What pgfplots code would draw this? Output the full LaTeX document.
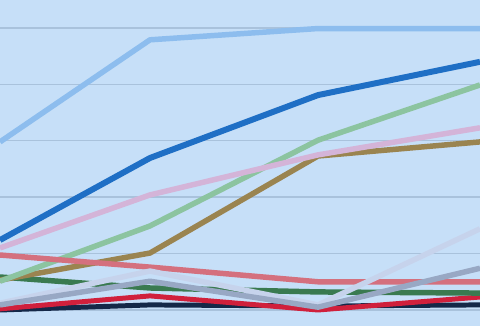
\documentclass[border=0pt]{standalone}
\usepackage{pgfplots}
\pgfplotsset{compat=1.18}
\definecolor{bgcol}{HTML}{C6DFF8}
\definecolor{gridcol}{HTML}{A9C2DC}
\definecolor{cLightBlue}{HTML}{8DBDEE}
\definecolor{cBlue}{HTML}{1F6FC5}
\definecolor{cGreen}{HTML}{8CC4A0}
\definecolor{cPink}{HTML}{D4B4D8}
\definecolor{cBrown}{HTML}{9A8450}
\definecolor{cRose}{HTML}{D4707E}
\definecolor{cDkGreen}{HTML}{3A7A50}
\definecolor{cLav}{HTML}{C6D3EC}
\definecolor{cGrayBlue}{HTML}{98A8C4}
\definecolor{cRed}{HTML}{D0203C}
\definecolor{cNavy}{HTML}{142848}
\begin{document}
\begin{tikzpicture}
\begin{axis}[
  scale only axis, width=480bp, height=326bp,
  xmin=0, xmax=480, ymin=-2.84, ymax=54.96,
  axis line style={draw=none},
  xtick=\empty,
  ytick={0,10,20,30,40,50}, yticklabels={},
  major tick length=0pt,
  ymajorgrids, grid style={gridcol, line width=1.4pt},
  axis background/.style={fill=bgcol},
  every axis plot/.append style={line join=round, line width=5.5pt, no markers},
]
\addplot[cNavy, line width=5pt] coordinates {(0,0) (150,0.9) (318,0.7) (480,0.9)};
\addplot[cRed, line width=5pt] coordinates {(0,0.2) (150,2.5) (318,0.0) (480,2.3)};
\addplot[cDkGreen] coordinates {(0,5.85) (150,3.9) (318,3.2) (480,3.0)};
\addplot[cBrown] coordinates {(0,5.3) (150,10.1) (318,27.3) (480,29.8)};
\addplot[cGreen] coordinates {(0,5.1) (150,14.9) (318,30.1) (480,39.9)};
\addplot[cPink] coordinates {(0,11.0) (150,20.4) (318,27.5) (480,32.3)};
\addplot[cRose] coordinates {(0,9.75) (150,7.6) (318,5.0) (480,5.0)};
\addplot[cLav] coordinates {(0,1.2) (150,6.9) (318,0.9) (480,14.4)};
\addplot[cGrayBlue] coordinates {(0,0.9) (150,5.1) (318,0.5) (480,7.4)};
\addplot[cBlue, line width=6pt] coordinates {(0,12.4) (150,26.95) (318,38.1) (480,44.0)};
\addplot[cLightBlue] coordinates {(0,29.8) (150,47.9) (318,49.9) (480,49.9)};
\end{axis}
\pgfresetboundingbox
\path (current axis.south west) rectangle (current axis.north east);
\end{tikzpicture}
\end{document}
